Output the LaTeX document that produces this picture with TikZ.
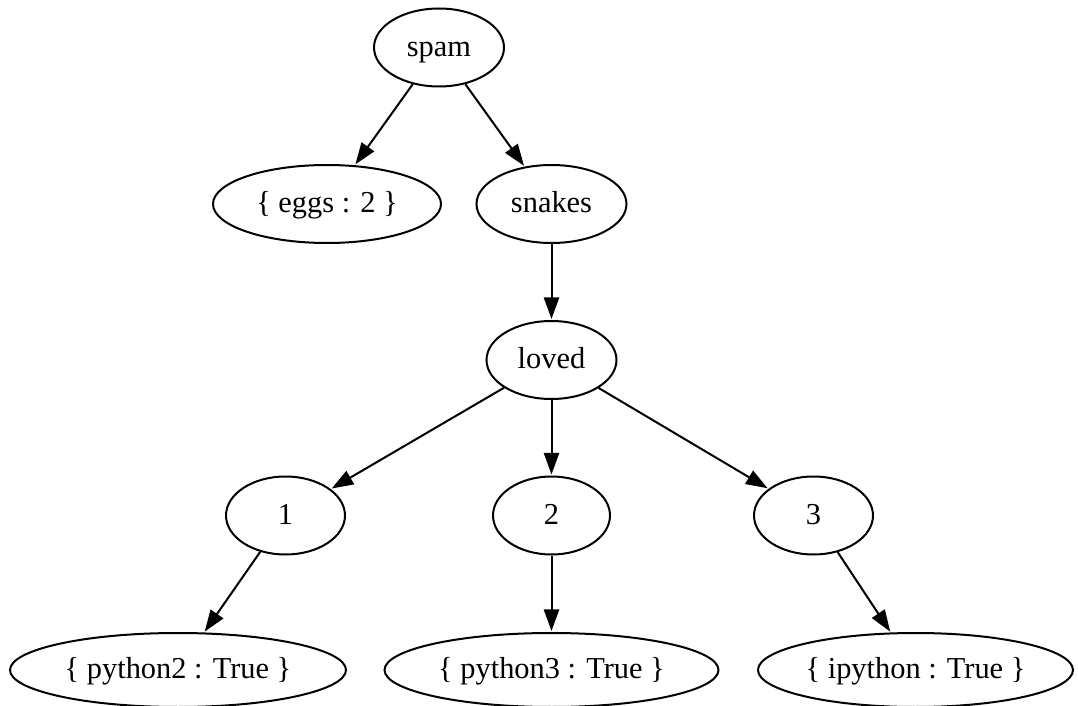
\documentclass[tikz,border=0pt]{standalone}
\usepackage{fontspec}
\setmainfont{Liberation Serif}
\usetikzlibrary{shapes.geometric,arrows.meta}
\tikzset{
  gvnode/.style={draw, ellipse, line width=1pt, inner sep=0pt, text height=10.5pt, text depth=1.8pt, font=\fontsize{15.2pt}{17pt}\selectfont},
  gvedge/.style={draw, line width=1pt, -{Triangle[length=10.8pt,width=7.6pt]}, shorten >=0.5pt}
}
\begin{document}
\begin{tikzpicture}[x=0.5pt,y=-0.5pt]
\useasboundingbox (0,0) rectangle (1078,706);
\node[gvnode, minimum width=65pt, minimum height=39pt] (spam) at (439,47.5) {spam};
\node[gvnode, minimum width=114pt, minimum height=39pt] (eggs) at (327,204) {\{ eggs : 2 \}};
\node[gvnode, minimum width=75pt, minimum height=39pt] (snakes) at (551.5,204) {snakes};
\node[gvnode, minimum width=65pt, minimum height=39pt] (loved) at (551.5,360) {loved};
\node[gvnode, minimum width=59.5pt, minimum height=39pt] (n1) at (285.5,515.5) {1};
\node[gvnode, minimum width=58.5pt, minimum height=39pt] (n2) at (551.5,515.5) {2};
\node[gvnode, minimum width=59.5pt, minimum height=39pt] (n3) at (813.5,515.5) {3};
\node[gvnode, minimum width=168pt, minimum height=37pt] (p2) at (178,670) {\{ python2 : True \}};
\node[gvnode, minimum width=167pt, minimum height=37pt] (p3) at (551.5,670) {\{ python3 : True \}};
\node[gvnode, minimum width=157.5pt, minimum height=37pt] (ip) at (915.5,670) {\{ ipython : True \}};
\draw[gvedge] (spam) -- (eggs);
\draw[gvedge] (spam) -- (snakes);
\draw[gvedge] (snakes) -- (loved);
\draw[gvedge] (loved) -- (n1);
\draw[gvedge] (loved) -- (n2);
\draw[gvedge] (loved) -- (n3);
\draw[gvedge] (n1) -- (p2);
\draw[gvedge] (n2) -- (p3);
\draw[gvedge] (n3) -- (ip);
\end{tikzpicture}
\end{document}
